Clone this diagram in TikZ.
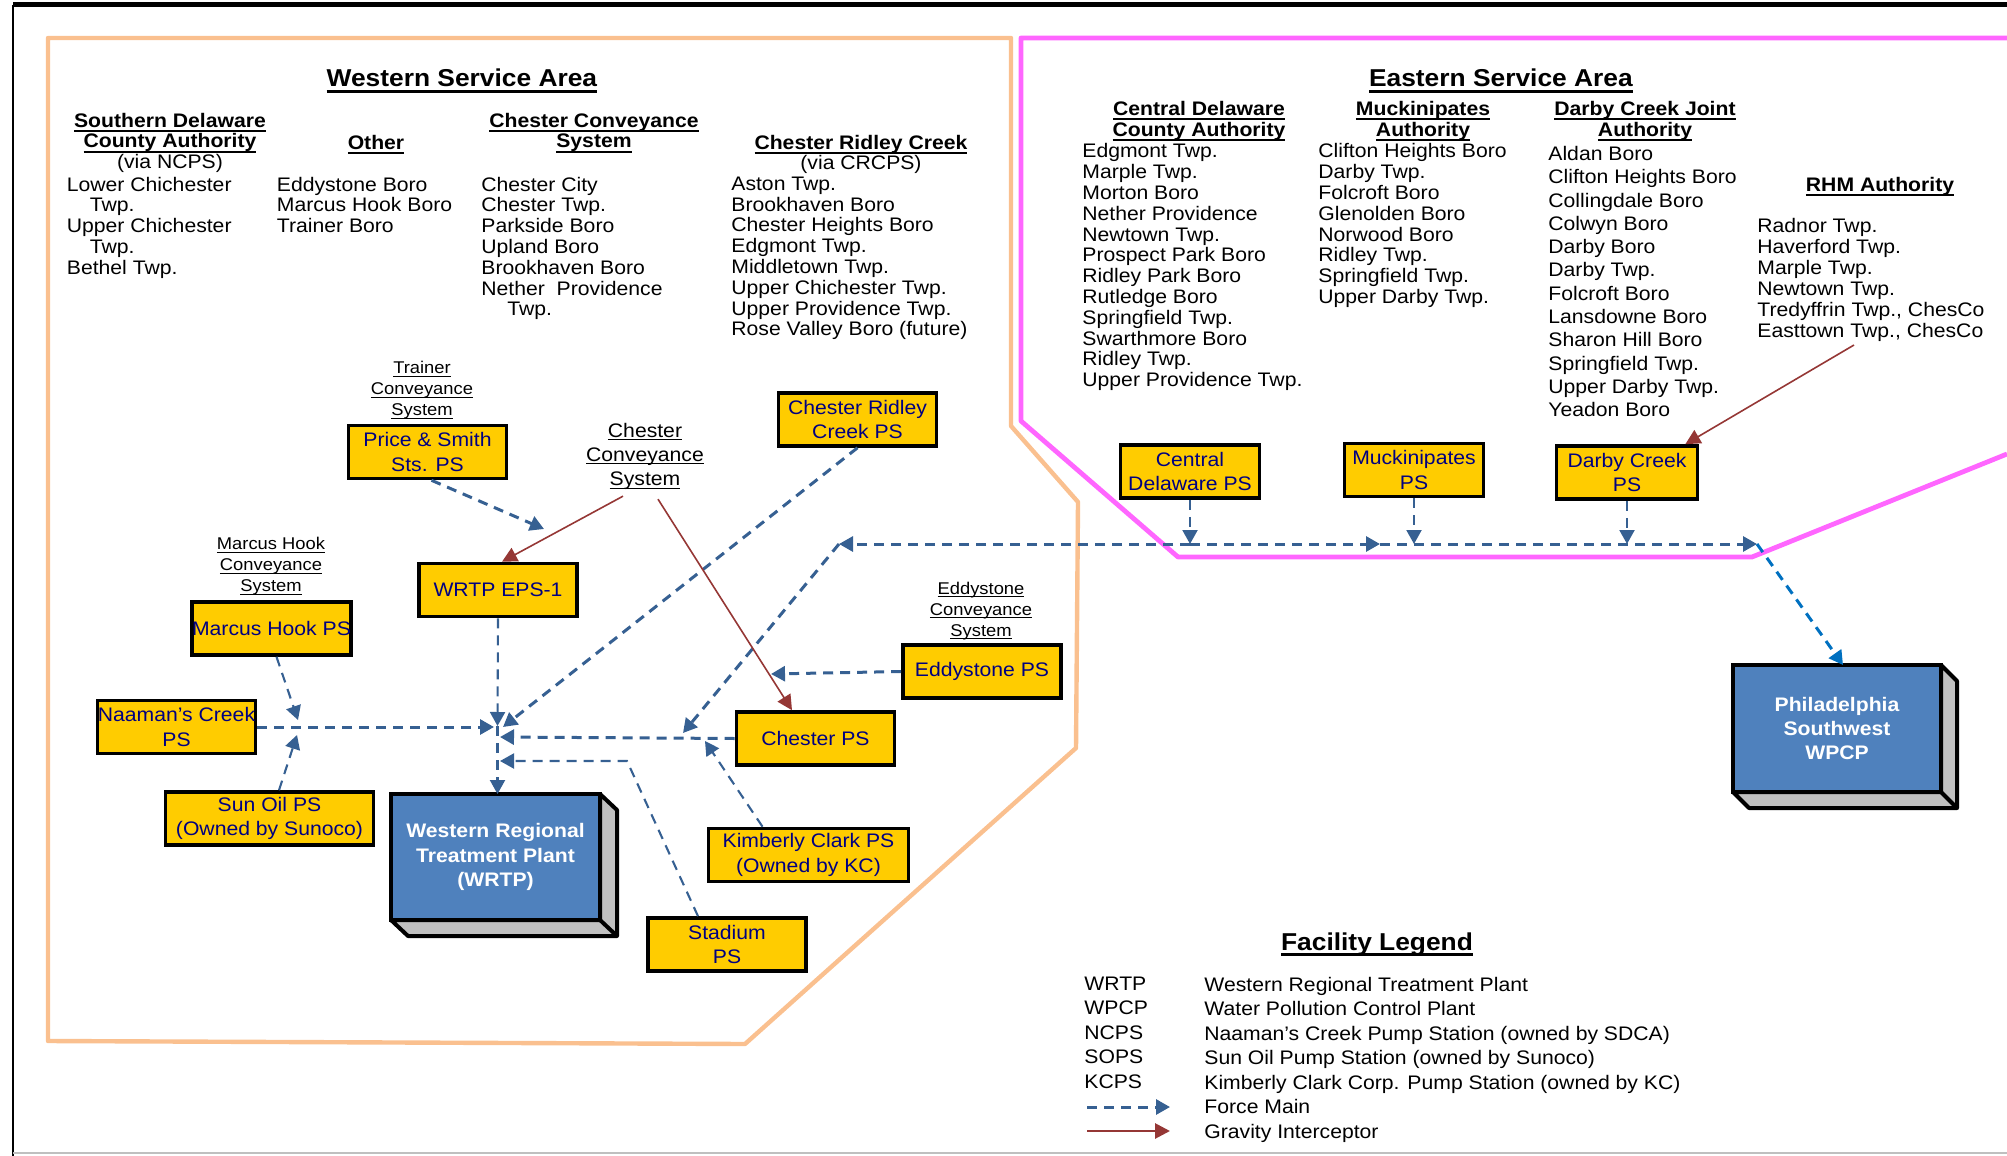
\documentclass[tikz,border=0pt]{standalone}
\usepackage{fontspec}
\setmainfont[FakeStretch=1.08]{Liberation Sans}
\usetikzlibrary{arrows.meta, calc}

\definecolor{pumpyellow}{RGB}{255,204,0}
\definecolor{plantblue}{RGB}{79,129,189}
\definecolor{depthgray}{RGB}{192,192,192}
\definecolor{boxtext}{RGB}{0,0,128}
\definecolor{forceblue}{RGB}{54,96,146}
\definecolor{phillyblue}{RGB}{0,112,192}
\definecolor{gravityred}{RGB}{149,55,53}
\definecolor{westorange}{RGB}{250,192,143}
\definecolor{eastpink}{RGB}{255,102,255}

\newlength{\ulwd}
% underline: #1 drop below baseline, #2 thickness, #3 text
\newcommand{\ulined}[3]{\settowidth{\ulwd}{#3}\rlap{#3}\rule[-#1]{\ulwd}{#2}}
\newcommand{\colhead}[1]{\ulined{2.3pt}{1pt}{\textbf{#1}}}
\newcommand{\areatitle}[1]{{\fontsize{12.2}{14}\selectfont\ulined{2.8pt}{1.1pt}{\textbf{#1}}}}
\newcommand{\lbl}[1]{\ulined{1.5pt}{0.55pt}{#1}}

\begin{document}
\begin{tikzpicture}[
    x=0.5pt, y=-0.5pt,
    every node/.style={font=\fontsize{9.8}{10.4}\selectfont, inner sep=0pt},
    hdr/.style={anchor=north, align=center},
    towns/.style={anchor=north west, align=left},
    smalllbl/.style={anchor=north, align=center, font=\fontsize{8.5}{10.5}\selectfont},
    pump/.style={rectangle, draw=black, line width=1.8pt, fill=pumpyellow, text=boxtext,
                 minimum width=79pt, minimum height=26.5pt, align=center,
                 font=\fontsize{9.8}{12.15}\selectfont},
    plant/.style={rectangle, draw=black, line width=2pt, fill=plantblue, text=white,
                  minimum width=104.5pt, minimum height=63pt, align=center, outer sep=0pt,
                  font=\bfseries\fontsize{9.8}{12.15}\selectfont},
    depth/.style={draw=black, line width=2pt, fill=depthgray, line join=round},
    force/.style={draw=forceblue, line width=1.5pt, dash pattern=on 5pt off 3.5pt,
                  -{Triangle[length=7pt, width=7.5pt]}},
    thinforce/.style={force, line width=1.05pt},
    gravity/.style={draw=gravityred, line width=0.8pt, -{Triangle[length=7.5pt, width=7.5pt]}},
]
\useasboundingbox (0,0) rectangle (2007,1156);

%% --- Page frame ---
\draw[line width=2.5pt] (13,5) -- (2007,5);
\draw[line width=1.4pt] (13,5) -- (13,1156);
\draw[gray!50, line width=1pt] (13,1153) -- (2007,1153);

%% --- Service area outlines ---
\draw[westorange, line width=2.2pt, line join=round]
    (48,38) -- (1011,38) -- (1011,426) -- (1078,502) -- (1076,748) -- (745,1044) -- (48,1041) -- cycle;
\draw[eastpink, line width=2.4pt, line join=round]
    (2007,38) -- (1021,38) -- (1021,421) -- (1178,557) -- (1752,557) -- (2007,454);

%% --- Western Service Area texts ---
\node[anchor=base] (westtitle) at (462,87) {\areatitle{Western Service Area}};

\node[hdr] (sdcahd) at (170,112.5) {\colhead{Southern Delaware}\\\colhead{County Authority}\\(via NCPS)};
\node[towns] (sdca) at (66.5,176.5)
    {Lower Chichester\\\hspace*{11.5pt}Twp.\\Upper Chichester\\\hspace*{11.5pt}Twp.\\Bethel Twp.};

\node[hdr] (otherhd) at (376,134.5) {\colhead{Other}};
\node[towns] (other) at (276.5,176.5) {Eddystone Boro\\Marcus Hook Boro\\Trainer Boro};

\node[hdr] (ccshd) at (594,112.5) {\colhead{Chester Conveyance}\\\colhead{System}};
\node[towns] (ccslist) at (481,176.5)
    {Chester City\\Chester Twp.\\Parkside Boro\\Upland Boro\\Brookhaven Boro\\Nether\ \ Providence\\\hspace*{13pt}Twp.};

\node[hdr] (crchd) at (861,134.5) {\colhead{Chester Ridley Creek}\\(via CRCPS)};
\node[towns] (crclist) at (731,176.5)
    {Aston Twp.\\Brookhaven Boro\\Chester Heights Boro\\Edgmont Twp.\\Middletown Twp.\\Upper Chichester Twp.\\Upper Providence Twp.\\Rose Valley Boro (future)};

%% --- Eastern Service Area texts ---
\node[anchor=base] (easttitle) at (1501,87) {\areatitle{Eastern Service Area}};

\node[hdr] (cdcahd) at (1199,101) {\colhead{Central Delaware}\\\colhead{County Authority}};
\node[towns] (cdcalist) at (1082,143.3)
    {Edgmont Twp.\\Marple Twp.\\Morton Boro\\Nether Providence\\Newtown Twp.\\Prospect Park Boro\\Ridley Park Boro\\Rutledge Boro\\Springfield Twp.\\Swarthmore Boro\\Ridley Twp.\\Upper Providence Twp.};

\node[hdr] (mahd) at (1423,101) {\colhead{Muckinipates}\\\colhead{Authority}};
\node[towns] (malist) at (1318,143.3)
    {Clifton Heights Boro\\Darby Twp.\\Folcroft Boro\\Glenolden Boro\\Norwood Boro\\Ridley Twp.\\Springfield Twp.\\Upper Darby Twp.};

\node[hdr] (dcjahd) at (1645,101) {\colhead{Darby Creek Joint}\\\colhead{Authority}};
\node[towns, font=\fontsize{9.8}{11.65}\selectfont] (dcjalist) at (1548,145.8)
    {Aldan Boro\\Clifton Heights Boro\\Collingdale Boro\\Colwyn Boro\\Darby Boro\\Darby Twp.\\Folcroft Boro\\Lansdowne Boro\\Sharon Hill Boro\\Springfield Twp.\\Upper Darby Twp.\\Yeadon Boro};

\node[hdr] (rhmhd) at (1880,176.5) {\colhead{RHM Authority}};
\node[towns, font=\fontsize{9.8}{10.5}\selectfont] (rhmlist) at (1757,217.5)
    {Radnor Twp.\\Haverford Twp.\\Marple Twp.\\Newtown Twp.\\Tredyffrin Twp., ChesCo\\Easttown Twp., ChesCo};

%% --- Conveyance system labels ---
\node[smalllbl] (tcslbl) at (422,361) {\lbl{Trainer}\\\lbl{Conveyance}\\\lbl{System}};
\node[smalllbl] (mhcslbl) at (271,537) {\lbl{Marcus Hook}\\\lbl{Conveyance}\\\lbl{System}};
\node[smalllbl] (ecslbl) at (981,581.5) {\lbl{Eddystone}\\\lbl{Conveyance}\\\lbl{System}};
\node[hdr, font=\fontsize{9.8}{12.15}\selectfont] (ccs) at (645,422.5)
    {\lbl{Chester}\\\lbl{Conveyance}\\\lbl{System}};

%% --- Pump stations ---
\node[pump] (price) at (427.5,452) {Price \& Smith\\Sts. PS};
\node[pump] (crcps) at (857.5,419.5) {Chester Ridley\\Creek PS};
\node[pump] (eps) at (498,590) {WRTP EPS-1};
\node[pump] (mhps) at (271.5,628.5) {Marcus Hook PS};
\node[pump] (ncps) at (176.5,727) {Naaman’s Creek\\PS};
\node[pump, minimum width=104pt] (sops) at (269.5,818.5) {Sun Oil PS\\(Owned by Sunoco)};
\node[pump] (eddy) at (982,671.5) {Eddystone PS};
\node[pump] (chps) at (815.5,738.5) {Chester PS};
\node[pump, minimum width=100pt] (kcps) at (808.5,855) {Kimberly Clark PS\\(Owned by KC)};
\node[pump] (stad) at (727,944.5) {Stadium\\PS};
\node[pump, minimum width=69.5pt] (cdps) at (1190,471.5) {Central\\Delaware PS};
\node[pump, minimum width=69.5pt] (mkps) at (1414,470) {Muckinipates\\PS};
\node[pump, minimum width=70.5pt] (dcps) at (1627,472.5) {Darby Creek\\PS};

%% --- Treatment plants ---
\node[plant] (wrtp) at (495.5,857) {Western Regional\\Treatment Plant\\(WRTP)};
\draw[depth] (wrtp.north east) -- ++(17,16) -- ($(wrtp.south east)+(17,16)$)
    -- ($(wrtp.south west)+(17,16)$) -- (wrtp.south west) -- (wrtp.south east) -- cycle;
\draw[depth] (wrtp.south east) -- ++(17,16);

\node[plant, minimum width=104pt, minimum height=63.5pt] (wpcp) at (1837,728.5) {Philadelphia\\Southwest\\WPCP};
\draw[depth] (wpcp.north east) -- ++(16,16) -- ($(wpcp.south east)+(16,16)$)
    -- ($(wpcp.south west)+(16,16)$) -- (wpcp.south west) -- (wpcp.south east) -- cycle;
\draw[depth] (wpcp.south east) -- ++(16,16);

%% --- Junction points ---
\coordinate (jeps) at (497.5,726);
\coordinate (jncw) at (494,727);
\coordinate (jcrc) at (503,727);
\coordinate (jchw) at (500,737);
\coordinate (jstw) at (500,761);
\coordinate (stbend) at (627,761);
\coordinate (jmhn) at (298,720);
\coordinate (jmhs) at (297,735);
\coordinate (jps) at (544,529);
\coordinate (jeddy) at (771,674);
\coordinate (jkc) at (705,741);
\coordinate (jtrdn) at (683,733);
\coordinate (trl) at (839,544);
\coordinate (trmk) at (1380,544);
\coordinate (tre) at (1757,544);
\coordinate (rhmfrom) at (1854,345);

%% --- Force mains: western area ---
\draw[force] ([xshift=2pt]price.south) -- (jps);
\draw[force] (crcps.south) -- (jcrc);
\draw[thinforce] (eps.south) -- (jeps);
\draw[thinforce] (jeps) -- ([xshift=1pt]wrtp.north);
\draw[force] (ncps.east) -- (jncw);
\draw[thinforce] ([xshift=2.5pt]mhps.south) -- (jmhn);
\draw[thinforce] ([xshift=4.75pt]sops.north) -- (jmhs);
\draw[force] (chps.west) -- (jchw);
\draw[thinforce] ([xshift=-23pt]kcps.north) -- (jkc);
\draw[thinforce] ([xshift=-14.5pt]stad.north) -- (stbend) -- (jstw);
\draw[force] (eddy.west) -- (jeddy);

%% --- Force mains: eastern trunk ---
\draw[thinforce] (cdps.south) -- (cdps.south |- trl);
\draw[thinforce] (mkps.south) -- (mkps.south |- trl);
\draw[thinforce] (dcps.south) -- (dcps.south |- trl);
\draw[force] (cdps.south |- trl) -- (trl);
\draw[force] (trl) -- (jtrdn);
\draw[force] (cdps.south |- trl) -- (trmk);
\draw[force] (trmk) -- (tre);
\draw[force, draw=phillyblue] (tre) -- ([xshift=3pt]wpcp.north);

%% --- Gravity interceptors ---
\draw[gravity] ([shift={(-22,6)}]ccs.south) -- ([xshift=2pt]eps.north);
\draw[gravity] ([shift={(13,9)}]ccs.south) -- ([xshift=-11.75pt]chps.north);
\draw[gravity] (rhmfrom) -- ([xshift=-7pt]dcps.north east);

%% --- Legend ---
\node[anchor=north] (legtitle) at (1377,932) {\areatitle{Facility Legend}};
\node[towns, font=\fontsize{9.8}{12.25}\selectfont] (legabbr) at (1084,976.5)
    {WRTP\\WPCP\\NCPS\\SOPS\\KCPS};
\node[towns, font=\fontsize{9.8}{12.25}\selectfont] (legdesc) at (1204,976.5)
    {Western Regional Treatment Plant\\Water Pollution Control Plant\\Naaman’s Creek Pump Station (owned by SDCA)\\Sun Oil Pump Station (owned by Sunoco)\\Kimberly Clark Corp. Pump Station (owned by KC)\\Force Main\\Gravity Interceptor};
\coordinate (legf0) at (1087,1107);
\coordinate (legf1) at (1170,1107);
\coordinate (legg0) at (1087,1131);
\coordinate (legg1) at (1170,1131);
\draw[force] (legf0) -- (legf1);
\draw[gravity, line width=1.4pt] (legg0) -- (legg1);

\end{tikzpicture}
\end{document}
